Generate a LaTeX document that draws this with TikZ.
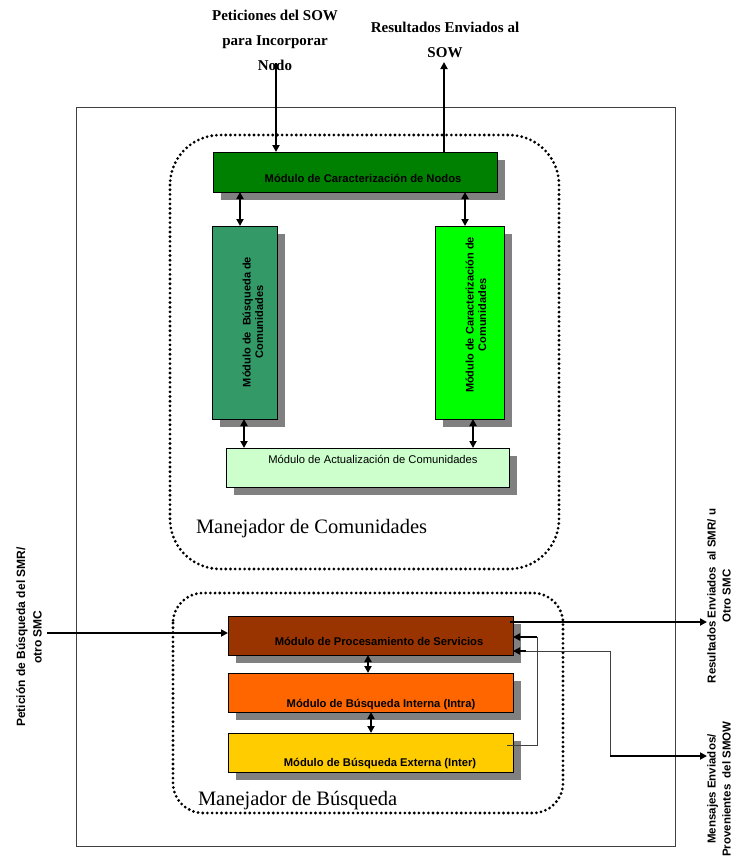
\documentclass[tikz,border=0pt]{standalone}
\usepackage{fontspec}
\setmainfont{Liberation Serif}
\setsansfont{Liberation Sans}
\usetikzlibrary{arrows.meta,calc}

\definecolor{nodosgreen}{HTML}{008000}
\definecolor{busqgreen}{HTML}{339966}
\definecolor{caracgreen}{HTML}{00FF00}
\definecolor{actgreen}{HTML}{CCFFCC}
\definecolor{procbrown}{HTML}{993300}
\definecolor{intorange}{HTML}{FF6600}
\definecolor{extgold}{HTML}{FFCC00}
\definecolor{shadowgray}{HTML}{808080}
\definecolor{framegray}{HTML}{404040}

\begin{document}
\begin{tikzpicture}[x=1pt,y=-1pt,
  every node/.style={inner sep=0pt, outer sep=0pt},
  modbox/.style={draw=black, line width=0.8pt,
    preaction={fill=shadowgray, draw=none, transform canvas={xshift=8pt,yshift=-8pt}}},
  modtext/.style={font=\fontsize{11.2}{12}\selectfont\sffamily\bfseries, anchor=base},
  vtext/.style={font=\fontsize{11}{12.5}\selectfont\sffamily\bfseries, rotate=90, align=center},
  plaintext/.style={font=\fontsize{11.2}{12}\selectfont\sffamily, anchor=base},
  sidetext/.style={font=\fontsize{12}{16.5}\selectfont\sffamily\bfseries, rotate=90, align=center},
  rsidetext/.style={font=\fontsize{11.5}{15}\selectfont\sffamily\bfseries, rotate=90, align=center},
  toptext/.style={font=\fontsize{15}{25}\selectfont\bfseries, anchor=base},
  grouptext/.style={font=\fontsize{20.5}{24}\selectfont, anchor=base west},
  dotframe/.style={line width=3.1pt, dash pattern=on 0pt off 4.7pt, line cap=round},
  arr/.style={line width=1.8pt, -{Triangle[length=7pt,width=7pt]}},
  dblarr/.style={line width=1.8pt, {Triangle[length=7pt,width=7pt]}-{Triangle[length=7pt,width=7pt]}},
  thinline/.style={line width=0.9pt, draw=framegray}]

\useasboundingbox (0,0) rectangle (733,857);

% outer frame
\draw[line width=0.9pt, framegray] (76,107) rectangle (675,846);

% group outlines
\draw[dotframe, rounded corners=50pt] (170,135) rectangle (559,569);
\draw[dotframe, rounded corners=30pt] (173,593) rectangle (563,813);

% community manager modules
\node[modbox, fill=nodosgreen, minimum width=284pt, minimum height=40pt] (car) at (355,172) {};
\node[modtext] at (363,182) {Módulo de Caracterización de Nodos};

\node[modbox, fill=busqgreen, minimum width=65pt, minimum height=193pt] (busq) at (244.5,322.5) {};
\node[vtext] at (253,322) {Módulo de\ \ Búsqueda de\\Comunidades};

\node[modbox, fill=caracgreen, minimum width=69pt, minimum height=193pt] (carac) at (469.5,322.5) {};
\node[vtext] at (476,315) {Módulo de Caracterización de\\Comunidades};

\node[modbox, fill=actgreen, minimum width=283pt, minimum height=39pt] (act) at (367.5,467.5) {};
\node[plaintext] at (373,463) {Módulo de Actualización de Comunidades};

% search manager modules
\node[modbox, fill=procbrown, minimum width=285pt, minimum height=39pt] (proc) at (370.5,635.5) {};
\node[modtext] at (379,645) {Módulo de Procesamiento de Servicios};

\node[modbox, fill=intorange, minimum width=285pt, minimum height=39pt] (int) at (370.5,692.5) {};
\node[modtext] at (381,707) {Módulo de Búsqueda Interna (Intra)};

\node[modbox, fill=extgold, minimum width=285pt, minimum height=39pt] (ext) at (370.5,752.5) {};
\node[modtext] at (380,766) {Módulo de Búsqueda Externa (Inter)};

% group labels
\node[grouptext] at (196,533) {Manejador de Comunidades};
\node[grouptext] at (198,805) {Manejador de Búsqueda};

% top labels
\node[toptext] at (275,20) {Peticiones del SOW};
\node[toptext] at (275,45) {para Incorporar};
\node[toptext] at (275,70) {Nodo};
\node[toptext] at (445,32) {Resultados Enviados al};
\node[toptext] at (445,57) {SOW};

% side labels
\node[sidetext] at (29,637) {Petición de Búsqueda del SMR/\\otro SMC};
\node[rsidetext] at (719,596) {Resultados Enviados\ \ al SMR/ u\\Otro SMC};
\node[rsidetext] at (719,789) {Mensajes Enviados/\\Provenientes\ \ del SMOW};

% free ends of the external connectors
\coordinate (sowIn) at (276,63);
\coordinate (sowOut) at (444,62);
\coordinate (reqIn) at (47,633);
\coordinate (resOut) at (707,622);
\coordinate (fbTop) at (537,637);
\coordinate (fbBot) at (537,745);
\coordinate (msgTop) at (610,651);
\coordinate (msgHead) at (526,651);
\coordinate (msgCorner) at (610,756);
\coordinate (msgOut) at (707,756);

% connectors
\draw[arr] (sowIn) -- (sowIn |- car.north);
\draw[arr] (car.north -| sowOut) -- (sowOut);
\draw[dblarr] (car.south -| 240,0) -- (busq.north -| 240,0);
\draw[dblarr] (car.south -| 465,0) -- (carac.north -| 465,0);
\draw[dblarr] (busq.south -| 244,0) -- (act.north -| 244,0);
\draw[dblarr] (carac.south -| 473,0) -- (act.north -| 473,0);
\draw[dblarr] (proc.south -| 368,0) -- (int.north -| 368,0);
\draw[dblarr] (int.south -| 371,0) -- (ext.north -| 371,0);

\draw[arr] (reqIn) -- (reqIn -| proc.west);
\draw[arr] ([xshift=-3pt]proc.east |- resOut) -- (resOut);

\draw[thinline] ([xshift=-6pt]ext.east |- fbBot) -- (fbBot) -- (fbTop);
\draw[arr] (fbTop) -- (proc.east |- fbTop);

\draw[thinline] (msgHead) -- (msgTop) -- (msgCorner);
\draw[arr] (msgHead) -- (proc.east |- msgHead);
\draw[arr] (msgCorner) -- (msgOut);
\end{tikzpicture}
\end{document}
